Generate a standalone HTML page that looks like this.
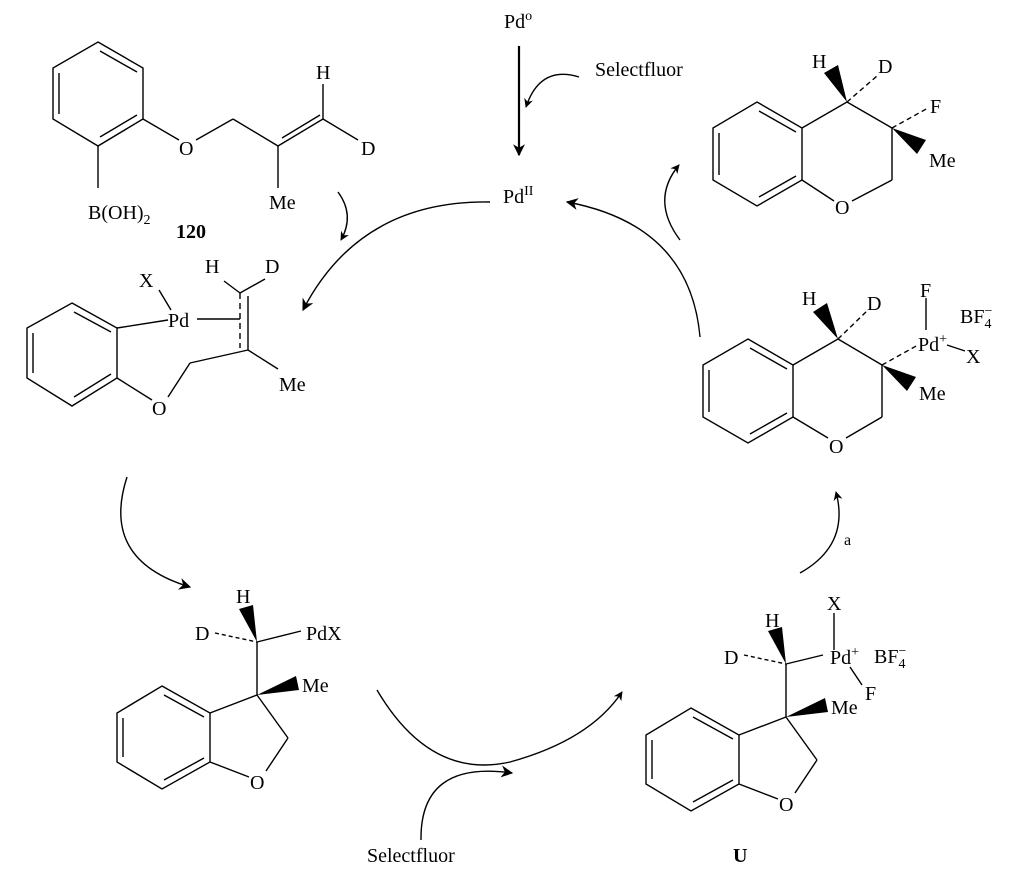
<!DOCTYPE html>
<html><head><meta charset="utf-8"><style>
html,body{margin:0;padding:0;background:#fff}
svg{display:block}
text{font-family:"Liberation Serif",serif;font-size:20px;fill:#000}
.s{font-size:14px}
.b{font-weight:bold}
</style></head><body>
<svg width="1031" height="876" viewBox="0 0 1031 876" xmlns="http://www.w3.org/2000/svg">
<defs>
<marker id="ah" viewBox="0 0 10 10" refX="9" refY="5" markerWidth="9" markerHeight="9" markerUnits="userSpaceOnUse" orient="auto">
<path d="M0,0 L10,5 L0,10 L3,5 z" fill="#000"/></marker>
<marker id="ah2" viewBox="0 0 10 10" refX="9" refY="5" markerWidth="14" markerHeight="12" markerUnits="userSpaceOnUse" orient="auto">
<path d="M0,0 L10,5 L0,10 L3,5 z" fill="#000"/></marker>
</defs>
<g stroke="#000" stroke-width="1.4" fill="none">
<polygon points="98,42 143,68 143,119 98,146 53,119 53,68"/>
<line x1="100" y1="51" x2="137" y2="72"/>
<line x1="59" y1="73" x2="59" y2="114"/>
<line x1="137" y1="115" x2="100" y2="137"/>
<line x1="143" y1="119" x2="179" y2="140"/>
<line x1="196" y1="140" x2="233" y2="119"/>
<line x1="233" y1="119" x2="278" y2="146"/>
<line x1="278" y1="146" x2="323" y2="119"/>
<line x1="282" y1="138" x2="320" y2="115"/>
<line x1="323" y1="119" x2="323" y2="84"/>
<line x1="323" y1="119" x2="358" y2="140"/>
<line x1="278" y1="146" x2="278" y2="188"/>
<line x1="98" y1="146" x2="98" y2="188"/>
<polygon points="72,303 117,328 117,378 72,406 27,378 27,328"/>
<line x1="74" y1="312" x2="111" y2="332"/>
<line x1="33" y1="333" x2="33" y2="373"/>
<line x1="111" y1="374" x2="74" y2="397"/>
<line x1="117" y1="328" x2="168" y2="320"/>
<line x1="159" y1="290" x2="171" y2="310"/>
<line x1="197" y1="319" x2="240" y2="319"/>
<line x1="240" y1="293" x2="240" y2="348" stroke-dasharray="6,4"/>
<line x1="248" y1="296" x2="248" y2="350"/>
<line x1="224" y1="281" x2="240" y2="293"/>
<line x1="240" y1="293" x2="265" y2="279"/>
<line x1="248" y1="350" x2="278" y2="369"/>
<line x1="248" y1="350" x2="190" y2="363"/>
<line x1="190" y1="363" x2="168" y2="397"/>
<line x1="117" y1="378" x2="152" y2="400"/>
<polygon points="757,102 802,128 802,180 757,206 713,180 713,128"/>
<line x1="759" y1="111" x2="796" y2="132"/>
<line x1="719" y1="133" x2="719" y2="175"/>
<line x1="796" y1="176" x2="759" y2="197"/>
<line x1="802" y1="128" x2="847" y2="102"/>
<line x1="847" y1="102" x2="892" y2="128"/>
<line x1="892" y1="128" x2="892" y2="180"/>
<line x1="892" y1="180" x2="852" y2="201"/>
<line x1="834" y1="201" x2="802" y2="180"/>
<line x1="847" y1="102" x2="877" y2="76" stroke-dasharray="5,3.5"/>
<line x1="892" y1="128" x2="928" y2="108" stroke-dasharray="5,3.5"/>
<polygon points="748,339 793,365 793,417 748,443 703,417 703,365"/>
<line x1="750" y1="348" x2="787" y2="369"/>
<line x1="709" y1="370" x2="709" y2="412"/>
<line x1="787" y1="413" x2="750" y2="434"/>
<line x1="793" y1="365" x2="838" y2="339"/>
<line x1="838" y1="339" x2="882" y2="365"/>
<line x1="882" y1="365" x2="882" y2="417"/>
<line x1="882" y1="417" x2="846" y2="438"/>
<line x1="828" y1="438" x2="793" y2="417"/>
<line x1="838" y1="339" x2="867" y2="311" stroke-dasharray="5,3.5"/>
<line x1="882" y1="365" x2="918" y2="345" stroke-dasharray="5,3.5"/>
<line x1="926" y1="298" x2="926" y2="330"/>
<line x1="947" y1="345" x2="965" y2="351"/>
<polygon points="162,686 210,713 210,762 162,789 117,762 117,713"/>
<line x1="164" y1="695" x2="204" y2="717"/>
<line x1="123" y1="718" x2="123" y2="757"/>
<line x1="204" y1="758" x2="164" y2="780"/>
<line x1="210" y1="713" x2="257" y2="695"/>
<line x1="257" y1="695" x2="288" y2="738"/>
<line x1="288" y1="738" x2="266" y2="771"/>
<line x1="210" y1="762" x2="249" y2="777"/>
<line x1="257" y1="695" x2="257" y2="642"/>
<line x1="257" y1="642" x2="301" y2="631"/>
<line x1="215" y1="633" x2="257" y2="642" stroke-dasharray="4,3"/>
<g transform="translate(529,22)">
<polygon points="162,686 210,713 210,762 162,789 117,762 117,713"/>
<line x1="164" y1="695" x2="204" y2="717"/>
<line x1="123" y1="718" x2="123" y2="757"/>
<line x1="204" y1="758" x2="164" y2="780"/>
<line x1="210" y1="713" x2="257" y2="695"/>
<line x1="257" y1="695" x2="288" y2="738"/>
<line x1="288" y1="738" x2="266" y2="771"/>
<line x1="210" y1="762" x2="249" y2="777"/>
<line x1="257" y1="695" x2="257" y2="642"/>
<line x1="257" y1="642" x2="294" y2="633"/>
<line x1="215" y1="633" x2="257" y2="642" stroke-dasharray="4,3"/>
</g>
<line x1="834" y1="613" x2="834" y2="650"/>
<line x1="850" y1="667" x2="862" y2="685"/>
<line x1="519" y1="46" x2="519" y2="155" stroke-width="2.2" marker-end="url(#ah2)"/>
<path d="M579,77 Q540,65 526,107" marker-end="url(#ah)"/>
<path d="M490,202 Q360,200 303,310" marker-end="url(#ah2)"/>
<path d="M338,192 Q355,215 341,240" marker-end="url(#ah)"/>
<path d="M700,337 Q690,225 567,202" marker-end="url(#ah2)"/>
<path d="M680,240 Q650,200 679,165" marker-end="url(#ah)"/>
<path d="M127,477 Q100,560 190,587" marker-end="url(#ah2)"/>
<path d="M377,690 Q430,780 510,762 Q590,740 622,692" marker-end="url(#ah)"/>
<path d="M421,840 Q420,760 512,773" marker-end="url(#ah2)"/>
<path d="M800,573 Q850,545 836,492" marker-end="url(#ah)"/>
</g>
<g fill="#000">
<polygon points="847,102 824,73 838,65"/>
<polygon points="892,128 926,140 917,154"/>
<polygon points="838,339 813,312 827,303"/>
<polygon points="882,365 916,377 907,391"/>
<polygon points="257,642 239,609 253,605"/>
<polygon points="257,695 296,676 299,690"/>
<polygon points="786,664 768,631 782,627"/>
<polygon points="786,717 825,698 828,712"/>
</g>
<text x="316" y="79">H</text>
<text x="361" y="155">D</text>
<text x="179" y="155">O</text>
<text x="269" y="209">Me</text>
<text x="88" y="219">B(OH)<tspan class="s" dy="5">2</tspan></text>
<text x="176" y="238" class="b">120</text>
<text x="504" y="28">Pd<tspan class="s" dy="-8">o</tspan></text>
<text x="595" y="76">Selectfluor</text>
<text x="503" y="203">Pd<tspan class="s" dy="-8">II</tspan></text>
<text x="139" y="287">X</text>
<text x="168" y="327">Pd</text>
<text x="205" y="273">H</text>
<text x="265" y="273">D</text>
<text x="152" y="415">O</text>
<text x="279" y="391">Me</text>
<text x="812" y="68">H</text>
<text x="878" y="73">D</text>
<text x="930" y="113">F</text>
<text x="929" y="167">Me</text>
<text x="835" y="214">O</text>
<text x="802" y="305">H</text>
<text x="867" y="310">D</text>
<text x="920" y="297">F</text>
<text x="918" y="351">Pd<tspan class="s" dy="-8">+</tspan></text>
<text x="960" y="323">BF<tspan class="s" dy="5">4</tspan><tspan class="s" dy="-13" dx="-7">−</tspan></text>
<text x="966" y="363">X</text>
<text x="919" y="400">Me</text>
<text x="829" y="453">O</text>
<text x="236" y="603">H</text>
<text x="195" y="640">D</text>
<text x="306" y="640">PdX</text>
<text x="302" y="692">Me</text>
<text x="250" y="789">O</text>
<text x="367" y="862">Selectfluor</text>
<text x="765" y="627">H</text>
<text x="724" y="664">D</text>
<text x="827" y="610">X</text>
<text x="830" y="664">Pd<tspan class="s" dy="-8">+</tspan></text>
<text x="874" y="663">BF<tspan class="s" dy="5">4</tspan><tspan class="s" dy="-13" dx="-7">−</tspan></text>
<text x="865" y="700">F</text>
<text x="831" y="714">Me</text>
<text x="779" y="811">O</text>
<text x="733" y="862" class="b">U</text>
<text x="844" y="545" style="font-size:16px">a</text>
</svg>
</body></html>
